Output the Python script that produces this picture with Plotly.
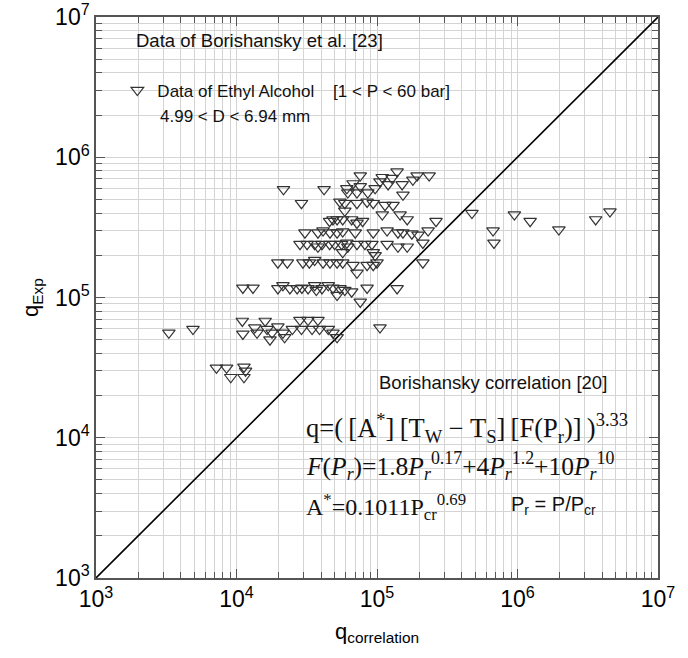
import plotly.graph_objects as go

# q_correlation (x) and q_Exp (y) values
q_corr = [
    7.6e4, 1.09e5, 1.28e5, 1.39e5, 1.93e5, 2.35e5, 1.80e5, 1.05e5, 1.20e5, 1.51e5,
    1.53e5, 6.75e4, 7.6e4, 6.2e4, 7.2e4, 8.6e4, 9.7e4, 6.1e4, 2.16e4, 4.2e4,
    2.9e4, 5.45e4, 5.9e4, 7.2e4, 8.5e4, 9.4e4, 1.14e5, 1.30e5, 5.9e4,
    1.09e5, 1.46e5, 1.64e5, 2.63e5, 4.6e4, 4.86e4, 5.2e4, 5.7e4, 6.6e4, 7.2e4, 7.9e4,
    4.74e5, 9.5e5, 1.23e6, 1.97e6, 3.6e6, 4.55e6, 6.7e5, 6.8e5,
    3.07e4, 3.8e4, 4.13e4, 4.63e4, 5.2e4, 5.7e4, 7.0e4, 9.4e4, 1.18e5, 1.41e5,
    1.53e5, 1.77e5, 1.96e5, 2.31e5,
    2.83e4, 3.18e4, 3.6e4, 4.06e4, 4.6e4, 5.0e4, 5.6e4, 6.1e4, 7.2e4, 8.2e4,
    9.2e4, 1.18e5, 1.41e5, 1.64e5, 2.12e5, 3.8e4, 6.2e4, 5.7e4, 9.4e4,
    1.97e4, 2.3e4, 2.97e4, 3.3e4, 3.6e4, 4.13e4, 4.63e4, 5.2e4, 5.7e4, 6.75e4,
    7.2e4, 8.5e4, 9.4e4, 1.0e5, 9.7e4, 2.12e5,
    1.11e4, 1.31e4, 1.97e4, 2.14e4, 2.4e4, 2.7e4, 2.92e4, 3.23e4, 3.6e4, 3.7e4,
    4.06e4, 4.5e4, 4.86e4, 5.2e4, 5.45e4, 5.9e4, 6.6e4, 8.5e4, 1.39e5, 7.6e4,
    3.3e3, 4.9e3, 1.1e4, 1.11e4, 1.35e4, 1.4e4, 1.6e4, 1.65e4, 1.79e4, 1.73e4,
    1.97e4, 2.14e4, 2.2e4, 2.5e4, 2.83e4, 2.9e4, 3.23e4, 3.45e4, 3.8e4, 3.9e4,
    4.5e4, 4.86e4, 5.2e4, 1.05e5,
    7.2e3, 8.5e3, 9.1e3, 1.13e4, 1.16e4, 1.13e4,
]
q_exp = [
    7.4e5, 7.2e5, 7.1e5, 7.9e5, 7.4e5, 7.4e5, 6.9e5, 6.7e5, 6.4e5, 6.4e5,
    5.4e5, 6.5e5, 6.2e5, 5.6e5, 5.6e5, 5.6e5, 6.0e5, 6.0e5, 5.9e5, 5.9e5,
    4.7e5, 4.8e5, 4.7e5, 4.7e5, 4.8e5, 4.7e5, 4.55e5, 4.55e5, 4.15e5,
    3.9e5, 3.9e5, 3.6e5, 3.5e5, 3.5e5, 3.6e5, 3.6e5, 3.6e5, 3.6e5, 3.4e5, 3.5e5,
    4.0e5, 3.9e5, 3.5e5, 3.05e5, 3.6e5, 4.1e5, 3.0e5, 2.45e5,
    2.9e5, 2.9e5, 3.0e5, 2.9e5, 2.9e5, 2.95e5, 2.9e5, 2.9e5, 3.0e5, 2.9e5,
    2.9e5, 2.85e5, 2.8e5, 3.0e5,
    2.4e5, 2.4e5, 2.4e5, 2.4e5, 2.4e5, 2.4e5, 2.4e5, 2.45e5, 2.4e5, 2.4e5,
    2.4e5, 2.4e5, 2.3e5, 2.3e5, 2.45e5, 2.3e5, 2.3e5, 2.1e5, 2.1e5,
    1.77e5, 1.77e5, 1.77e5, 1.77e5, 1.85e5, 1.77e5, 1.77e5, 1.77e5, 1.77e5, 1.7e5,
    1.5e5, 1.7e5, 1.7e5, 1.77e5, 2.0e5, 1.77e5,
    1.17e5, 1.17e5, 1.16e5, 1.22e5, 1.16e5, 1.16e5, 1.17e5, 1.16e5, 1.22e5, 1.13e5,
    1.16e5, 1.22e5, 1.17e5, 1.04e5, 1.16e5, 1.13e5, 1.1e5, 1.17e5, 1.16e5, 9.3e4,
    5.6e4, 5.95e4, 6.8e4, 5.5e4, 6.1e4, 5.6e4, 6.8e4, 5.95e4, 5.6e4, 5.0e4,
    6.2e4, 5.6e4, 5.2e4, 5.95e4, 6.9e4, 5.95e4, 6.9e4, 5.95e4, 6.9e4, 5.95e4,
    5.95e4, 5.6e4, 5.2e4, 6.1e4,
    3.15e4, 3.15e4, 2.7e4, 3.2e4, 3.0e4, 2.7e4,
]

diag = [1e3, 1e7]
decades = [1e3, 1e4, 1e5, 1e6, 1e7]
decade_labels = ["10<sup>3</sup>", "10<sup>4</sup>", "10<sup>5</sup>", "10<sup>6</sup>", "10<sup>7</sup>"]
minor_vals = [m * d for d in [1e3, 1e4, 1e5, 1e6] for m in range(2, 10)]

SANS = "Liberation Sans, Arial, sans-serif"
SERIF = "Liberation Serif, Times New Roman, serif"

fig = go.Figure()
fig.add_trace(go.Scatter(
    x=diag, y=diag, mode="lines", line=dict(color="black", width=1.6),
    showlegend=False, hoverinfo="skip"))
fig.add_trace(go.Scatter(
    x=q_corr, y=q_exp, mode="markers",
    name="Data of Ethyl Alcohol\u00a0\u00a0\u00a0\u00a0[1 < P < 60 bar]",
    marker=dict(symbol="triangle-down-open", size=11, color="#333333",
                line=dict(width=1.2, color="#333333"))))

axis_common = dict(
    type="log", tickvals=decades, ticktext=decade_labels,
    ticks="inside", ticklen=9, tickwidth=1, tickcolor="#555555",
    showgrid=True, gridcolor="#d4d4d4", gridwidth=1,
    showline=True, linecolor="#555555", linewidth=1.5, mirror="allticks",
    zeroline=False, automargin=False,
    tickfont=dict(family=SANS, size=23, color="black"),
    minor=dict(tickvals=minor_vals, ticks="inside", ticklen=6, tickcolor="#555555",
               showgrid=True, gridcolor="#d4d4d4", gridwidth=1),
)

fig.update_xaxes(range=[3, 7], title=dict(text="q<sub>correlation</sub>",
                 font=dict(family=SANS, size=22, color="black"), standoff=12),
                 **axis_common)
fig.update_yaxes(range=[3, 7], title=dict(text="q<sub>Exp</sub>",
                 font=dict(family=SANS, size=22, color="black"), standoff=10),
                 **axis_common)

fig.update_layout(
    width=688, height=658,
    margin=dict(l=96, r=30, t=17, b=80),
    paper_bgcolor="white", plot_bgcolor="white",
    showlegend=True,
    legend=dict(x=0.038, y=0.869, xanchor="left", yanchor="middle",
                bgcolor="rgba(0,0,0,0)", borderwidth=0,
                font=dict(family=SANS, size=17, color="#111111"),
                itemwidth=30),
)

annotations = [
    dict(x=0.068, y=0.958, text="Data of Borishansky et al. [23]",
         font=dict(family=SANS, size=18.5, color="#111111")),
    dict(x=0.11, y=0.822, text="4.99 < D < 6.94 mm",
         font=dict(family=SANS, size=17, color="#111111")),
    dict(x=0.5, y=0.348, text="Borishansky correlation [20]",
         font=dict(family=SANS, size=18.5, color="#111111")),
    dict(x=0.37, y=0.268,
         text="q=(\u2009[A<sup>*</sup>]\u2009[T<sub>W</sub> \u2212 T<sub>S</sub>]\u2009[F(P<sub>r</sub>)]\u2009)<sup>3.33</sup>",
         font=dict(family=SERIF, size=26.5, color="#111111")),
    dict(x=0.37, y=0.2,
         text="<i>F</i>(<i>P</i><sub><i>r</i></sub>)=1.8<i>P</i><sub><i>r</i></sub><sup>0.17</sup>+4<i>P</i><sub><i>r</i></sub><sup>1.2</sup>+10<i>P</i><sub><i>r</i></sub><sup>10</sup>",
         font=dict(family=SERIF, size=25.5, color="#111111")),
    dict(x=0.37, y=0.127,
         text="A<sup>*</sup>=0.1011P<sub>cr</sub><sup>0.69</sup>",
         font=dict(family=SERIF, size=24, color="#111111")),
    dict(x=0.735, y=0.129,
         text="P<sub>r</sub> = P/P<sub>cr</sub>",
         font=dict(family=SANS, size=20, color="#111111")),
]
for a in annotations:
    fig.add_annotation(xref="paper", yref="paper", xanchor="left", yanchor="middle",
                       showarrow=False, **a)

fig.write_html("out.html")
